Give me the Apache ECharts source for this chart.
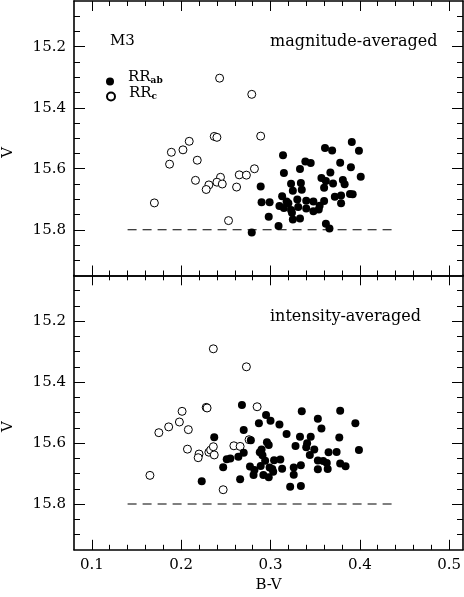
<!DOCTYPE html>
<html><head><meta charset="utf-8">
<script src="https://cdn.jsdelivr.net/npm/echarts@6/dist/echarts.min.js"></script>
<style>html,body{margin:0;padding:0;background:#fff}#c{width:464px;height:597px}</style>
</head><body><div id="c"></div><script>
// ---- tick positions ----
const xMajorTicks = [0.1, 0.2, 0.3, 0.4, 0.5];
const xMinorTicks = [0.1, 0.12, 0.14, 0.16, 0.18, 0.2, 0.22, 0.24, 0.26, 0.28, 0.3, 0.32, 0.34, 0.36, 0.38, 0.4, 0.42, 0.44, 0.46, 0.48, 0.5];
const vMajorTicks = [15.2, 15.4, 15.6, 15.8];
const vMinorTicks = [15.1, 15.15, 15.2, 15.25, 15.3, 15.35, 15.4, 15.45, 15.5, 15.55, 15.6, 15.65, 15.7, 15.75, 15.8, 15.85, 15.9];

// ---- reference line ----
const refLineBV = [0.14, 0.437];
const refLineV = 15.8;

// ---- magnitude-averaged: RRab (filled) ----
const magAbBV = [0.314,0.361,0.369,0.391,0.399,0.315,0.339,0.345,0.333,0.378,0.390,0.401,0.289,0.323,0.334,0.325,0.335,0.357,0.367,0.362,0.370,0.381,0.383,0.360,0.313,0.290,0.299,0.310,0.315,0.320,0.323,0.324,0.330,0.331,0.340,0.340,0.348,0.348,0.354,0.360,0.355,0.372,0.379,0.389,0.392,0.379,0.298,0.325,0.333,0.309,0.362,0.366,0.279,0.318];
const magAbV  = [15.556,15.532,15.540,15.512,15.541,15.614,15.576,15.581,15.601,15.580,15.595,15.626,15.658,15.649,15.647,15.672,15.669,15.630,15.612,15.640,15.648,15.637,15.651,15.662,15.690,15.710,15.710,15.722,15.729,15.713,15.735,15.744,15.701,15.725,15.705,15.730,15.707,15.739,15.734,15.706,15.721,15.692,15.688,15.683,15.684,15.713,15.757,15.766,15.763,15.788,15.780,15.796,15.809,15.707];
// ---- magnitude-averaged: RRc (open) ----
const magCBV = [0.243,0.279,0.237,0.240,0.209,0.189,0.202,0.187,0.218,0.289,0.216,0.244,0.240,0.246,0.231,0.228,0.265,0.273,0.282,0.262,0.170,0.253];
const magCV  = [15.303,15.356,15.494,15.497,15.510,15.546,15.538,15.585,15.572,15.493,15.638,15.628,15.644,15.650,15.653,15.668,15.620,15.621,15.600,15.660,15.712,15.770];

// ---- intensity-averaged: RRab (filled) ----
const intAbBV = [0.268,0.335,0.378,0.395,0.295,0.300,0.287,0.310,0.353,0.357,0.270,0.318,0.333,0.345,0.377,0.237,0.278,0.296,0.298,0.328,0.341,0.340,0.349,0.399,0.365,0.374,0.290,0.288,0.291,0.344,0.270,0.264,0.255,0.251,0.304,0.311,0.294,0.353,0.359,0.363,0.378,0.384,0.277,0.282,0.289,0.299,0.302,0.313,0.326,0.334,0.353,0.364,0.303,0.292,0.298,0.281,0.326,0.266,0.247,0.223,0.322,0.334];
const intAbV  = [15.475,15.496,15.494,15.535,15.508,15.527,15.535,15.539,15.520,15.552,15.557,15.570,15.579,15.579,15.582,15.581,15.591,15.597,15.606,15.610,15.601,15.614,15.621,15.623,15.630,15.629,15.621,15.630,15.640,15.639,15.632,15.645,15.651,15.653,15.656,15.654,15.658,15.657,15.659,15.665,15.667,15.676,15.677,15.688,15.675,15.680,15.685,15.684,15.680,15.673,15.686,15.685,15.694,15.705,15.712,15.705,15.704,15.719,15.679,15.725,15.743,15.741];
// ---- intensity-averaged: RRc (open) ----
const intCBV = [0.236,0.273,0.228,0.229,0.285,0.201,0.198,0.186,0.175,0.208,0.276,0.207,0.259,0.266,0.220,0.219,0.231,0.233,0.236,0.237,0.165,0.247];
const intCV  = [15.291,15.350,15.483,15.485,15.481,15.496,15.531,15.547,15.566,15.556,15.589,15.620,15.609,15.611,15.636,15.648,15.630,15.623,15.612,15.639,15.706,15.753];

const X_MIN = 0.08, X_MAX = 0.5155, V_MIN = 15.05, V_MAX = 15.95;
const FONT = 'DejaVu Serif';
const zip = (a, b) => a.map((v, i) => [v, b[i]]);

function xAx(grid, pos, ticks, len, main, labels) {
  const o = {
    type: 'value', gridIndex: grid, position: pos, min: X_MIN, max: X_MAX,
    splitLine: { show: false },
    axisLine: { show: main, onZero: false, lineStyle: { color: '#000', width: 1.6 } },
    axisTick: { show: true, inside: true, length: len, customValues: ticks, lineStyle: { color: '#000', width: 1 } },
    axisLabel: { show: labels, customValues: xMajorTicks, formatter: v => v.toFixed(1), margin: 8,
      fontFamily: FONT, fontSize: 15, color: '#000' }
  };
  if (labels) {
    o.name = 'B-V'; o.nameLocation = 'middle'; o.nameGap = 28;
    o.nameTextStyle = { fontFamily: FONT, fontSize: 15, color: '#000' };
  }
  return o;
}
function yAx(grid, pos, ticks, len, main, labels) {
  const o = {
    type: 'value', gridIndex: grid, position: pos, min: V_MIN, max: V_MAX, inverse: true,
    splitLine: { show: false },
    axisLine: { show: main, onZero: false, lineStyle: { color: '#000', width: 1.6 } },
    axisTick: { show: true, inside: true, length: len, customValues: ticks, lineStyle: { color: '#000', width: 1 } },
    axisLabel: { show: labels, customValues: vMajorTicks, formatter: v => v.toFixed(1), margin: 8,
      fontFamily: FONT, fontSize: 15, color: '#000' }
  };
  if (labels) {
    o.name = 'V'; o.nameLocation = 'middle'; o.nameGap = 58;
    o.nameTextStyle = { fontFamily: FONT, fontSize: 15, color: '#000', padding: [0, 28, 0, 0] };
  }
  return o;
}

const openStyle = { color: '#fff', borderColor: '#000', borderWidth: 1, opacity: 1 };
const filledStyle = { color: '#000', opacity: 1 };
const richLegend = {
  a: { fontFamily: FONT, fontSize: 15, color: '#000', lineHeight: 16 },
  b: { fontFamily: FONT, fontSize: 9, fontWeight: 'bold', color: '#000', lineHeight: 8, verticalAlign: 'bottom' }
};

const option = {
  animation: false,
  backgroundColor: '#fff',
  grid: [
    { left: 74, top: 1, width: 389, height: 274.5, outerBoundsMode: 'none' },
    { left: 74, top: 275.3, width: 389, height: 274.5, outerBoundsMode: 'none' }
  ],
  title: [
    { text: 'M3', left: 110, top: 34, padding: 0, textStyle: { fontFamily: FONT, fontSize: 15, fontWeight: 'normal', color: '#000' } },
    { text: 'magnitude-averaged', left: 270, top: 34, padding: 0, textStyle: { fontFamily: FONT, fontSize: 16, fontWeight: 'normal', color: '#000' } },
    { text: 'intensity-averaged', left: 270, top: 309, padding: 0, textStyle: { fontFamily: FONT, fontSize: 16, fontWeight: 'normal', color: '#000' } }
  ],
  legend: [
    { data: ['RRab'], left: 106, top: 70, padding: 0, itemWidth: 26, itemHeight: 8, selectedMode: false,
      formatter: () => '{a|RR}{b|ab}', textStyle: { rich: richLegend, padding: [0, 0, 8, 0] } },
    { data: ['RRc'], left: 106, top: 86, padding: 0, itemWidth: 26, itemHeight: 8, selectedMode: false,
      formatter: () => '{a|RR}{b|c}', textStyle: { rich: richLegend, padding: [0, 0, 6, 0] } }
  ],
  xAxis: [
    xAx(0, 'bottom', xMajorTicks, 10, true, false),
    xAx(0, 'bottom', xMinorTicks, 5, false, false),
    xAx(0, 'top', xMajorTicks, 10, true, false),
    xAx(0, 'top', xMinorTicks, 5, false, false),
    xAx(1, 'bottom', xMajorTicks, 10, true, true),
    xAx(1, 'bottom', xMinorTicks, 5, false, false),
    xAx(1, 'top', xMajorTicks, 10, true, false),
    xAx(1, 'top', xMinorTicks, 5, false, false)
  ],
  yAxis: [
    yAx(0, 'left', vMajorTicks, 11, true, true),
    yAx(0, 'left', vMinorTicks, 6, false, false),
    yAx(0, 'right', vMajorTicks, 11, true, false),
    yAx(0, 'right', vMinorTicks, 6, false, false),
    yAx(1, 'left', vMajorTicks, 11, true, true),
    yAx(1, 'left', vMinorTicks, 6, false, false),
    yAx(1, 'right', vMajorTicks, 11, true, false),
    yAx(1, 'right', vMinorTicks, 6, false, false)
  ],
  series: [
    { name: 'RRc', type: 'scatter', xAxisIndex: 0, yAxisIndex: 0, symbol: 'circle', symbolSize: 8, itemStyle: openStyle, data: zip(magCBV, magCV), silent: true },
    { name: 'RRab', type: 'scatter', xAxisIndex: 0, yAxisIndex: 0, symbol: 'circle', symbolSize: 8, itemStyle: filledStyle, data: zip(magAbBV, magAbV), silent: true },
    { name: 'RRc', type: 'scatter', xAxisIndex: 4, yAxisIndex: 4, symbol: 'circle', symbolSize: 8, itemStyle: openStyle, data: zip(intCBV, intCV), silent: true },
    { name: 'RRab', type: 'scatter', xAxisIndex: 4, yAxisIndex: 4, symbol: 'circle', symbolSize: 8, itemStyle: filledStyle, data: zip(intAbBV, intAbV), silent: true },
    { name: 'ref1', type: 'line', xAxisIndex: 0, yAxisIndex: 0, symbol: 'none', silent: true,
      lineStyle: { color: '#000', width: 1.1, type: [9, 6] }, data: refLineBV.map(x => [x, refLineV]) },
    { name: 'ref2', type: 'line', xAxisIndex: 4, yAxisIndex: 4, symbol: 'none', silent: true,
      lineStyle: { color: '#000', width: 1.1, type: [9, 6] }, data: refLineBV.map(x => [x, refLineV]) }
  ]
};
echarts.init(document.getElementById('c'), null, { renderer: 'canvas' }).setOption(option);
</script></body></html>
